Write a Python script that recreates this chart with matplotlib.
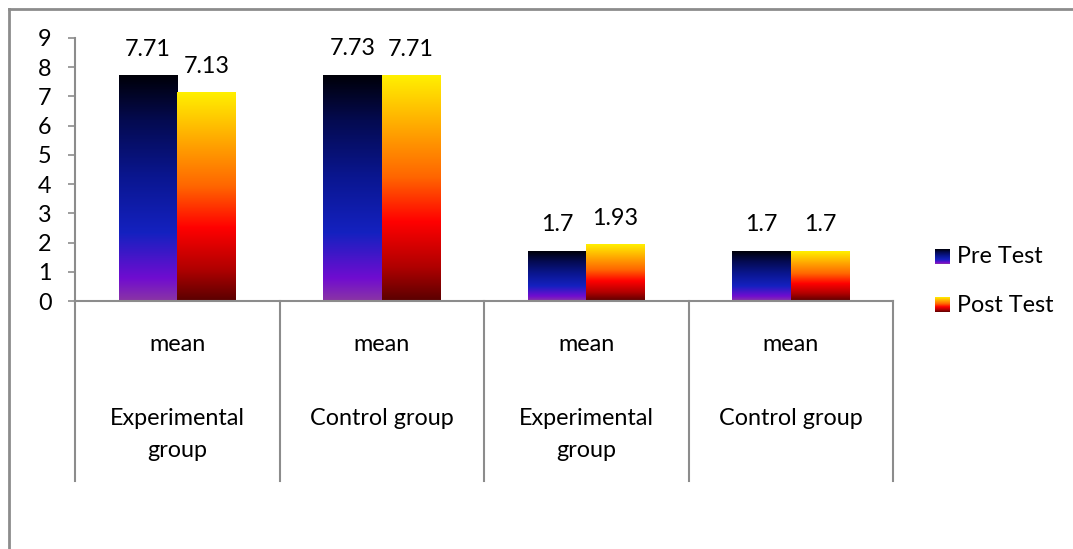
import numpy as np
import matplotlib
matplotlib.use("Agg")
import matplotlib.pyplot as plt
from matplotlib.colors import LinearSegmentedColormap
from matplotlib.lines import Line2D

# ---- data ----
top_labels = ["mean", "mean", "mean", "mean"]
group_labels = ["Experimental\ngroup", "Control group", "Experimental\ngroup", "Control group"]
series_names = ["Pre Test", "Post Test"]
pre_values = [7.71, 7.73, 1.7, 1.7]
post_values = [7.13, 7.71, 1.93, 1.7]
value_labels_pre = ["7.71", "7.73", "1.7", "1.7"]
value_labels_post = ["7.13", "7.71", "1.93", "1.7"]
y_ticks = [0, 1, 2, 3, 4, 5, 6, 7, 8, 9]

plt.rcParams['font.family'] = ['Lato', 'DejaVu Sans']
FS = 16.8
GRAY = "#8c8c8c"

# gradients (bottom -> top)
pre_cmap = LinearSegmentedColormap.from_list("pre", [
    (0.0, "#8a35a5"), (0.10, "#700cd0"), (0.30, "#1421c0"),
    (0.55, "#0a1690"), (0.80, "#040a50"), (1.0, "#000008")])
post_cmap = LinearSegmentedColormap.from_list("post", [
    (0.0, "#5a0000"), (0.15, "#b00000"), (0.35, "#ff0000"),
    (0.55, "#ff6600"), (0.72, "#ff9900"), (1.0, "#fff000")])

fig = plt.figure(figsize=(10.73, 5.49), dpi=100)
ax = fig.add_axes([75/1073, 1-301/549, (893-75)/1073, (301-38)/549])

n = len(pre_values)
x = np.arange(n)
w = 0.285
grad = np.linspace(0, 1, 256).reshape(-1, 1)

bars_pre = ax.bar(x - w/2, pre_values, w, color="none", edgecolor="none")
bars_post = ax.bar(x + w/2, post_values, w, color="none", edgecolor="none")

for bars, cmap in ((bars_pre, pre_cmap), (bars_post, post_cmap)):
    for r in bars:
        x0, h, bw = r.get_x(), r.get_height(), r.get_width()
        ax.imshow(grad, cmap=cmap, origin="lower", aspect="auto",
                  extent=[x0, x0 + bw, 0, h], zorder=2, interpolation="bilinear")

for bars, labs in ((bars_pre, value_labels_pre), (bars_post, value_labels_post)):
    for r, lab in zip(bars, labs):
        ax.annotate(lab, (r.get_x() + r.get_width()/2, r.get_height()),
                    xytext=(0, 19), textcoords="offset points",
                    ha="center", va="center", fontsize=FS)

ax.set_xlim(-0.5, n - 0.5)
ax.set_ylim(0, 9)
ax.set_yticks(y_ticks)
ax.set_yticklabels([str(t) for t in y_ticks], fontsize=FS)
ax.tick_params(axis="y", length=5, width=1.2, color=GRAY, pad=12)
ax.set_xticks([])
for s in ("top", "right"):
    ax.spines[s].set_visible(False)
for s in ("left", "bottom"):
    ax.spines[s].set_color(GRAY)
    ax.spines[s].set_linewidth(1.5)

# category separators
trans = ax.get_xaxis_transform()
for xb in np.arange(n + 1) - 0.5:
    ax.add_line(Line2D([xb, xb], [0, -0.684], transform=trans, color=GRAY,
                       lw=1.5, clip_on=False))

# category labels
for i in range(n):
    ax.text(x[i], -0.167, top_labels[i], transform=trans, ha="center",
            va="center", fontsize=FS)
    lines = group_labels[i].split("\n")
    for j, ln in enumerate(lines):
        ax.text(x[i], -0.445 - j*0.122, ln, transform=trans, ha="center",
                va="center", fontsize=FS)

# legend
for k, (name, cmap) in enumerate(zip(series_names, (pre_cmap, post_cmap))):
    cy = 257 + k*48
    lax = fig.add_axes([935/1073, 1-(cy+7)/549, 15/1073, 15/549])
    lax.imshow(grad, cmap=cmap, origin="lower", aspect="auto",
               interpolation="bilinear")
    lax.axis("off")
    fig.text(957/1073, 1-cy/549, name, ha="left", va="center", fontsize=FS)

# outer border (left and top)
fig.add_artist(Line2D([9/1073, 9/1073], [0, 1-9/549], transform=fig.transFigure,
                      color=GRAY, lw=2))
fig.add_artist(Line2D([9/1073, 1], [1-9/549, 1-9/549], transform=fig.transFigure,
                      color=GRAY, lw=2))

fig.savefig("out.png", dpi=100)
